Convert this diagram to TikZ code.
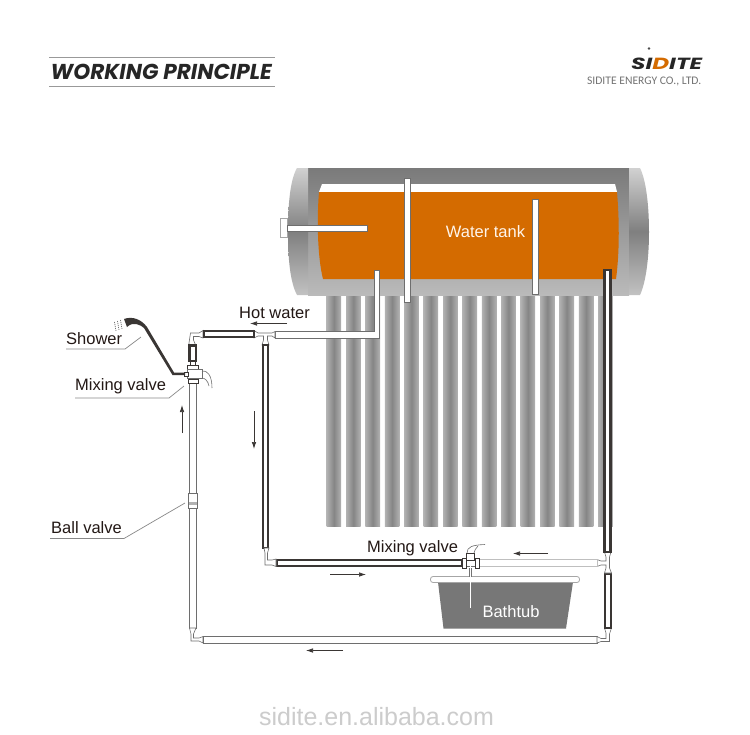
\documentclass[tikz,border=0pt]{standalone}
\usepackage{fontspec}
\usepackage{graphicx}
\setmainfont{Liberation Sans}
\newfontfamily\compfont{Carlito}
\newfontfamily\headfont{Poppins}
\definecolor{inkc}{HTML}{231815}
\definecolor{orangew}{HTML}{D46B00}
\definecolor{pipedark}{HTML}{3A3634}
\definecolor{pipegrey}{HTML}{6E6E6E}
\definecolor{tubeedge}{HTML}{B2B2B2}
\definecolor{tubemid}{HTML}{858585}
\definecolor{tubgrey}{HTML}{777777}
\definecolor{leader}{HTML}{888888}
\usetikzlibrary{arrows.meta}
\tikzset{
  txt/.style={inner sep=0pt,anchor=west,text=inkc,font=\fontsize{16.5}{18}\selectfont},
  whitetxt/.style={inner sep=0pt,text=white,font=\fontsize{16.5}{18}\selectfont},
  leaderline/.style={draw=leader,line width=0.7pt},
  flow/.style={draw=pipedark,line width=0.7pt,-{Latex[length=7pt,width=4.5pt]}},
  pipelight/.style={draw=pipegrey,fill=white,line width=0.9pt},
  pipepale/.style={draw=black!25,fill=white,line width=0.9pt},
  pipedarkst/.style={draw=pipedark,fill=white,line width=2.4pt},
  fitting/.style={draw=pipegrey,line width=0.6pt,fill=white},
  nut/.style={draw=pipedark,fill=white,line width=1pt},
  thinline/.style={draw=pipegrey,line width=0.6pt},
  tube/.style={left color=tubeedge,right color=tubeedge,middle color=tubemid},
  headrule/.style={draw=black!40,line width=1pt}
}
\begin{document}
\begin{tikzpicture}[x=1pt,y=-1pt]
\useasboundingbox (0,0) rectangle (750,734);
\fill[white] (0,0) rectangle (750,734);
% heading
\draw[headrule] (49,57) -- (275,57);
\draw[headrule] (49,86) -- (275,86);
\node[inner sep=0pt,anchor=west,text=black!85] (title) at (50.5,71.5) {\resizebox{221pt}{!}{\headfont\bfseries\itshape WORKING PRINCIPLE}};
% logo
\fill[black!70] (649,48.5) circle (1.3);
\node[inner sep=0pt,anchor=west,text=black!85] (logo) at (631,63.5) {\resizebox{71pt}{11.5pt}{\headfont\bfseries\itshape SI\textcolor{orangew}{D}ITE}};
\node[inner sep=0pt,anchor=east,text=black!55] (company) at (701.5,81) {\compfont\fontsize{11.6}{13}\selectfont SIDITE ENERGY CO., LTD.};
% collector tubes
\foreach \i in {0,...,14}{
  \shade[tube] ({326.6+19.4*\i},290) rectangle ({341.2+19.4*\i},526.5);
}
% tank
\shade[top color=black!52,bottom color=black!27] (308,168) rectangle (629,295);
\shade[top color=black!18,bottom color=black!24,middle color=black!50] (308,168) -- (297,168) .. controls (290,180) and (288,205) .. (288,232) .. controls (288,258) and (290,282) .. (297,295) -- (308,295) -- cycle;
\shade[top color=black!18,bottom color=black!24,middle color=black!50] (629,168) -- (640,168) .. controls (646,180) and (649,205) .. (649,232) .. controls (649,258) and (646,282) .. (640,295) -- (629,295) -- cycle;
\fill[white] (322,184) -- (615,184) -- (617,192) -- (319,192) -- cycle;
\fill[orangew] (319,192) -- (617,192) .. controls (619,215) and (620,250) .. (616,279) -- (323,279) .. controls (317,255) and (317,215) .. (319,192) -- cycle;
\node[whitetxt,text=white!92!orange] (tank) at (485.5,232) {Water tank};
% pipes in the tank
\draw[draw=black!35,fill=white,line width=0.7pt] (280.5,218) rectangle (287,237);
\draw[pipelight] (287,225) rectangle (367,231);
\draw[pipelight] (404,178.5) rectangle (410,302);
\draw[pipelight] (532.5,199.5) rectangle (538,294);
% hot outlet
\draw[pipelight] (275,331.5) -- (374,331.5) -- (374,270) -- (379.5,270) -- (379.5,338) -- (275,338) -- cycle;
% upper-left run
\draw[fitting] (254,330.5) -- (258,333) -- (272,333) -- (275,331.5) -- (275,338) -- (272,336) -- (267.5,336) -- (267.5,340) -- (269,345) -- (262,345) -- (263.5,340) -- (263.5,336) -- (258,336) -- (254,338) -- cycle;
\draw[fitting] (203,330.5) -- (199,333) -- (190.5,333) -- (189,343) -- (189,346) -- (196,346) -- (193.5,340) -- (193.5,336.5) -- (199,336.5) -- (203,338) -- cycle;
\draw[pipedarkst] (204,331.2) rectangle (254,337.2);
\draw[pipedarkst] (263.2,345) rectangle (268,548);
% mixing valve at shower
\draw[pipedarkst] (189.3,345.5) rectangle (196,361);
\draw[pipelight] (189.5,383) rectangle (196.5,493);
\draw[nut] (187.5,365) rectangle (198,369.5);
\draw[nut] (190,361) rectangle (195,365);
\draw[fitting] (187.5,369.5) rectangle (202,378);
\draw[nut] (184,372) rectangle (188,376.5);
\draw[nut] (188,379) rectangle (198,383);
\draw[thinline] (190,378) -- (190,379) (196,378) -- (196,379);
\draw[thinline] (202,371) .. controls (207,370) and (212,375) .. (212,388);
\draw[thinline] (202,378) .. controls (205,378) and (208,381) .. (209,386);
% ball valve and riser
\draw[fitting] (188.5,493) rectangle (197,508);
\fill[black!30] (189,502) rectangle (196.5,505);
\draw[pipelight] (189.5,508) rectangle (196,628);
\draw[fitting] (189.5,628) -- (196,628) -- (193.5,634) -- (193.5,638) -- (199,638) -- (203,636.5) -- (203,643) -- (199,641) -- (191,641) -- (191,634) -- cycle;
% shower
\fill[pipedark] (124,319) .. controls (132,316) and (141,319) .. (147,327) -- (174,372.5) -- (185,372.5) -- (185,375) -- (172.5,375) -- (144,328) .. controls (141,325) and (133,321) .. (127,327) -- cycle;
\draw[draw=black!60,line width=0.7pt,dash pattern=on 1pt off 1pt] (114.5,322) -- (116,331) (117.5,321) -- (119,330) (120.5,320) -- (122,329);
% long return pipe
\draw[pipelight] (203,636.5) rectangle (597,643);
\draw[fitting] (597,636.5) -- (601,638.5) -- (606,638.5) -- (606,633) -- (604.5,628) -- (611.5,628) -- (609.5,634) -- (609.5,641.5) -- (601,641.5) -- (597,643) -- cycle;
\draw[pipedarkst] (605,574) rectangle (611,628);
% right junction
\draw[fitting] (604.5,552) -- (606,557) -- (606,561) -- (601,561) -- (597,559.5) -- (597,566.5) -- (601,565) -- (606,565) -- (606,568) -- (604.5,573) -- (611.5,573) -- (609.5,568) -- (609.5,557) -- (611,552) -- cycle;
% right pipe
\draw[pipedarkst] (604.5,270) rectangle (610.5,552);
% lower mixing line
\draw[pipepale] (479,559.5) rectangle (597,566.5);
\draw[pipedarkst] (277,560) rectangle (462,566);
\draw[fitting] (264,548) -- (269,548) -- (267.5,553) -- (267.5,560) -- (272,560) -- (276,559) -- (276,566.5) -- (272,565) -- (265,565) -- (265,553) -- cycle;
% bath
\fill[tubgrey] (438,582) -- (573,582) -- (566,628.5) -- (443.5,628.5) -- cycle;
\draw[draw=black!35,fill=white,line width=0.8pt,rounded corners=2.5pt] (430.5,576.5) rectangle (579.5,582.5);
\node[whitetxt] (bathtub) at (511,612) {Bathtub};
% valve at bath
\draw[fitting] (466,566) rectangle (475,560);
\draw[nut] (462,558) rectangle (466,568);
\draw[nut] (475,558) rectangle (479,568);
\draw[nut] (466.5,553.5) rectangle (474.5,560);
\draw[thinline] (467,553) .. controls (467,547) and (472,545) .. (485,544.5);
\draw[thinline] (474,553) .. controls (474,550) and (476,549) .. (478,546);
\fill[white] (469.5,564) rectangle (471,608);
\draw[draw=black!55,line width=0.4pt] (469.3,568) -- (469.3,577);
\draw[draw=black!55,line width=0.4pt] (471.2,568) -- (471.2,577);
% labels
\node[txt] (hotlabel) at (239,312.5) {Hot water};
\node[txt] (showerlabel) at (66,338.5) {Shower};
\node[txt] (mixa) at (75,386.5) {Mixing valve};
\node[txt] (ballv) at (51,527.5) {Ball valve};
\node[txt] (mixb) at (367,548) {Mixing valve};
% leaders
\coordinate (la) at (66,349); \coordinate (lb) at (125,349); \coordinate (lc) at (141,337);
\draw[leaderline] (la) -- (lb) -- (lc);
\coordinate (ma) at (75,398); \coordinate (mb) at (169,398); \coordinate (mc) at (184,386);
\draw[leaderline] (ma) -- (mb) -- (mc);
\coordinate (ba) at (50,538.5); \coordinate (bb) at (124,538.5); \coordinate (bc) at (185,503);
\draw[leaderline] (ba) -- (bb) -- (bc);
% flow arrows
\coordinate (f1a) at (287,323.5); \coordinate (f1b) at (250,323.5);
\draw[flow] (f1a) -- (f1b);
\coordinate (f2a) at (254,411); \coordinate (f2b) at (254,449);
\draw[flow] (f2a) -- (f2b);
\coordinate (f3a) at (182,433); \coordinate (f3b) at (182,405);
\draw[flow] (f3a) -- (f3b);
\coordinate (f4a) at (330,574.5); \coordinate (f4b) at (366,574.5);
\draw[flow] (f4a) -- (f4b);
\coordinate (f5a) at (548,553.5); \coordinate (f5b) at (513,553.5);
\draw[flow] (f5a) -- (f5b);
\coordinate (f6a) at (343,650.5); \coordinate (f6b) at (306,650.5);
\draw[flow] (f6a) -- (f6b);
% watermark
\node[inner sep=0pt,text=black!20] (wm) at (376.5,716.5) {\fontsize{25}{28}\selectfont sidite.en.alibaba.com};
\end{tikzpicture}
\end{document}
